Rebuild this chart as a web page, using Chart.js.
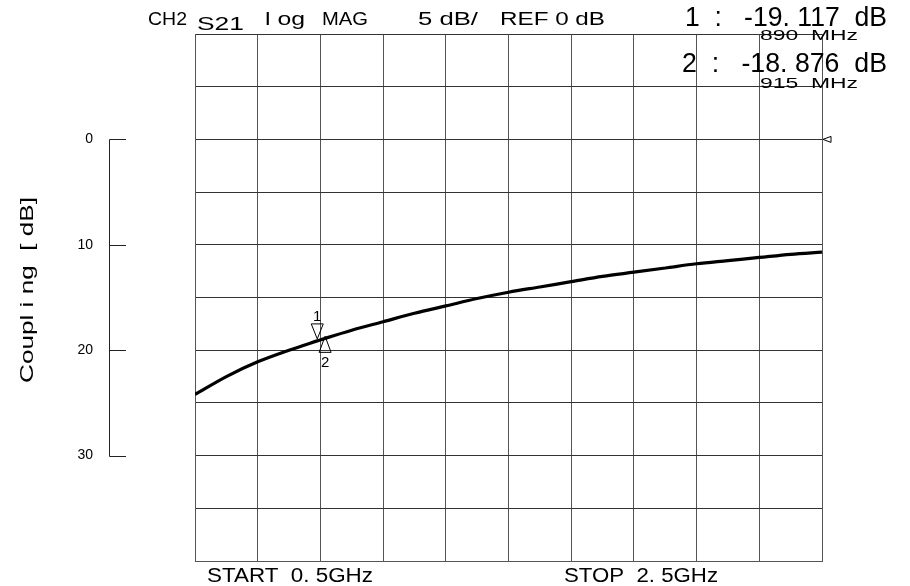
<!DOCTYPE html>
<html><head><meta charset="utf-8">
<script src="https://cdn.jsdelivr.net/npm/chart.js@4/dist/chart.umd.min.js"></script>
<style>html,body{margin:0;padding:0;background:#fff;}canvas{display:block}</style>
</head><body>
<canvas id="c" width="910" height="586"></canvas>
<script>
// ---- data ----
const freqGHz    = [0.5, 0.6, 0.7, 0.8, 0.89, 0.915, 1.0, 1.1, 1.2, 1.3, 1.4, 1.5, 1.6, 1.7, 1.8, 1.9, 2.0, 2.1, 2.2, 2.3, 2.4, 2.5];
const couplingDb = [24.2, 22.5, 21.1, 20.0, 19.117, 18.876, 18.1, 17.3, 16.5, 15.8, 15.1, 14.5, 14.0, 13.5, 13.0, 12.6, 12.2, 11.8, 11.5, 11.2, 10.9, 10.7];
const xGridTicks = [0.5, 0.7, 0.9, 1.1, 1.3, 1.5, 1.7, 1.9, 2.1, 2.3, 2.5];
const yGridTicks = [-10, -5, 0, 5, 10, 15, 20, 25, 30, 35, 40];
const couplingAxisTicks = [0, 10, 20, 30];
const refLevelDb = 0;
const markerFreqGHz = [0.89, 0.915];
const markerDb = [19.117, 18.876];
const markerNames = ['1', '2'];
const headerTexts = ['CH2', 'S21', 'l og', 'MAG', '5 dB/', 'REF 0 dB'];
const markerReadouts = ['1  :   -19. 117  dB', '890  MHz', '2  :   -18. 876  dB', '915  MHz'];
const footerTexts = ['START  0. 5GHz', 'STOP  2. 5GHz'];
const yTitle = 'Coupl i ng  [ dB]';

// ---- layout (positions / sizes) ----
const FONT = '"Liberation Sans", Arial, sans-serif';
const headerLayout = [
  {x:148, y:25, s:18, w:39},
  {x:197, y:30, s:18, w:47},
  {x:265, y:25, s:18, w:40},
  {x:322, y:25, s:18, w:46},
  {x:418, y:25, s:18, w:60},
  {x:500, y:25, s:18, w:105}
];
const readoutLayout = [
  {x:685, y:26, s:27, w:202},
  {x:682, y:40, s:15, w:98},
  {x:682, y:71.5, s:27, w:205},
  {x:760, y:88, s:15, w:98}
];
readoutLayout[1].x = 760;
const footerLayout = [
  {x:207, y:582, s:20, w:166},
  {x:564, y:582, s:20, w:154}
];

function drawScaledText(ctx, str, x, y, size, width) {
  ctx.save();
  ctx.font = size + 'px ' + FONT;
  ctx.textAlign = 'left';
  ctx.textBaseline = 'alphabetic';
  const m = ctx.measureText(str).width;
  ctx.translate(x, y);
  ctx.scale(width / m, 1);
  ctx.fillStyle = '#000';
  ctx.fillText(str, 0, 0);
  ctx.restore();
}

const overlay = {
  id: 'overlay',
  afterDraw(chart) {
    const ctx = chart.ctx;
    const xs = chart.scales.x, ys = chart.scales.y;
    headerTexts.forEach((t, i) => { const L = headerLayout[i]; drawScaledText(ctx, t, L.x, L.y, L.s, L.w); });
    markerReadouts.forEach((t, i) => { const L = readoutLayout[i]; drawScaledText(ctx, t, L.x, L.y, L.s, L.w); });
    footerTexts.forEach((t, i) => { const L = footerLayout[i]; drawScaledText(ctx, t, L.x, L.y, L.s, L.w); });

    // coupling bracket axis
    ctx.save();
    ctx.strokeStyle = '#222';
    ctx.lineWidth = 1;
    const bx = 109.5, tx = 126;
    const y0 = ys.getPixelForValue(couplingAxisTicks[0]);
    const y1 = ys.getPixelForValue(couplingAxisTicks[couplingAxisTicks.length - 1]);
    ctx.beginPath();
    ctx.moveTo(bx, Math.round(y0) + 0.5); ctx.lineTo(bx, Math.round(y1) + 0.5);
    couplingAxisTicks.forEach(v => {
      const yy = Math.round(ys.getPixelForValue(v)) + 0.5;
      ctx.moveTo(bx, yy); ctx.lineTo(tx, yy);
    });
    ctx.stroke();
    ctx.fillStyle = '#000';
    ctx.font = '14px ' + FONT;
    ctx.textAlign = 'right';
    ctx.textBaseline = 'middle';
    couplingAxisTicks.forEach(v => {
      ctx.fillText(String(v), 93, ys.getPixelForValue(v));
    });
    // y title
    ctx.translate(28, 290);
    ctx.rotate(-Math.PI / 2);
    ctx.font = '19px ' + FONT;
    ctx.textAlign = 'left';
    const m = ctx.measureText(yTitle).width;
    ctx.scale(186 / m, 1);
    ctx.fillText(yTitle, -m / 2, 0);
    ctx.restore();

    // reference level marker on right edge
    ctx.save();
    ctx.strokeStyle = '#000';
    ctx.lineWidth = 1;
    const rx = xs.right + 1, ry = ys.getPixelForValue(refLevelDb);
    ctx.beginPath();
    ctx.moveTo(rx, ry); ctx.lineTo(rx + 8, ry - 3); ctx.lineTo(rx + 8, ry + 3); ctx.closePath();
    ctx.stroke();
    ctx.restore();

    // markers
    ctx.save();
    ctx.strokeStyle = '#000';
    ctx.lineWidth = 1;
    ctx.fillStyle = '#000';
    ctx.font = '15px ' + FONT;
    ctx.textAlign = 'center';
    ctx.textBaseline = 'alphabetic';
    markerFreqGHz.forEach((f, i) => {
      const px = xs.getPixelForValue(f);
      const py = ys.getPixelForValue(markerDb[i]) - 2;
      ctx.beginPath();
      if (i === 0) {
        ctx.moveTo(px, py); ctx.lineTo(px - 6, py - 15); ctx.lineTo(px + 6, py - 15); ctx.closePath();
        ctx.stroke();
        ctx.fillText(markerNames[i], px, py - 18);
      } else {
        ctx.moveTo(px, py); ctx.lineTo(px - 6, py + 16); ctx.lineTo(px + 6, py + 16); ctx.closePath();
        ctx.stroke();
        ctx.fillText(markerNames[i], px, py + 31);
      }
    });
    ctx.restore();
  }
};

new Chart(document.getElementById('c'), {
  type: 'line',
  data: {
    datasets: [{
      data: freqGHz.map((f, i) => ({x: f, y: couplingDb[i]})),
      borderColor: '#000',
      borderWidth: 3.2,
      pointRadius: 0,
      fill: false,
      cubicInterpolationMode: 'monotone'
    }]
  },
  options: {
    responsive: false,
    animation: false,
    events: [],
    layout: {padding: {left: 195, right: 88, top: 34, bottom: 25}},
    plugins: {legend: {display: false}, tooltip: {enabled: false}},
    scales: {
      x: {
        type: 'linear', min: 0.5, max: 2.5,
        afterBuildTicks: s => { s.ticks = xGridTicks.map(v => ({value: v})); },
        ticks: {display: false},
        grid: {color: '#555', lineWidth: 1, drawTicks: false},
        border: {color: '#555'}
      },
      y: {
        type: 'linear', min: -10, max: 40, reverse: true,
        afterBuildTicks: s => { s.ticks = yGridTicks.map(v => ({value: v})); },
        ticks: {display: false},
        grid: {color: '#333', lineWidth: 1, drawTicks: false},
        border: {color: '#555'}
      }
    }
  },
  plugins: [overlay]
});
</script>
</body></html>
